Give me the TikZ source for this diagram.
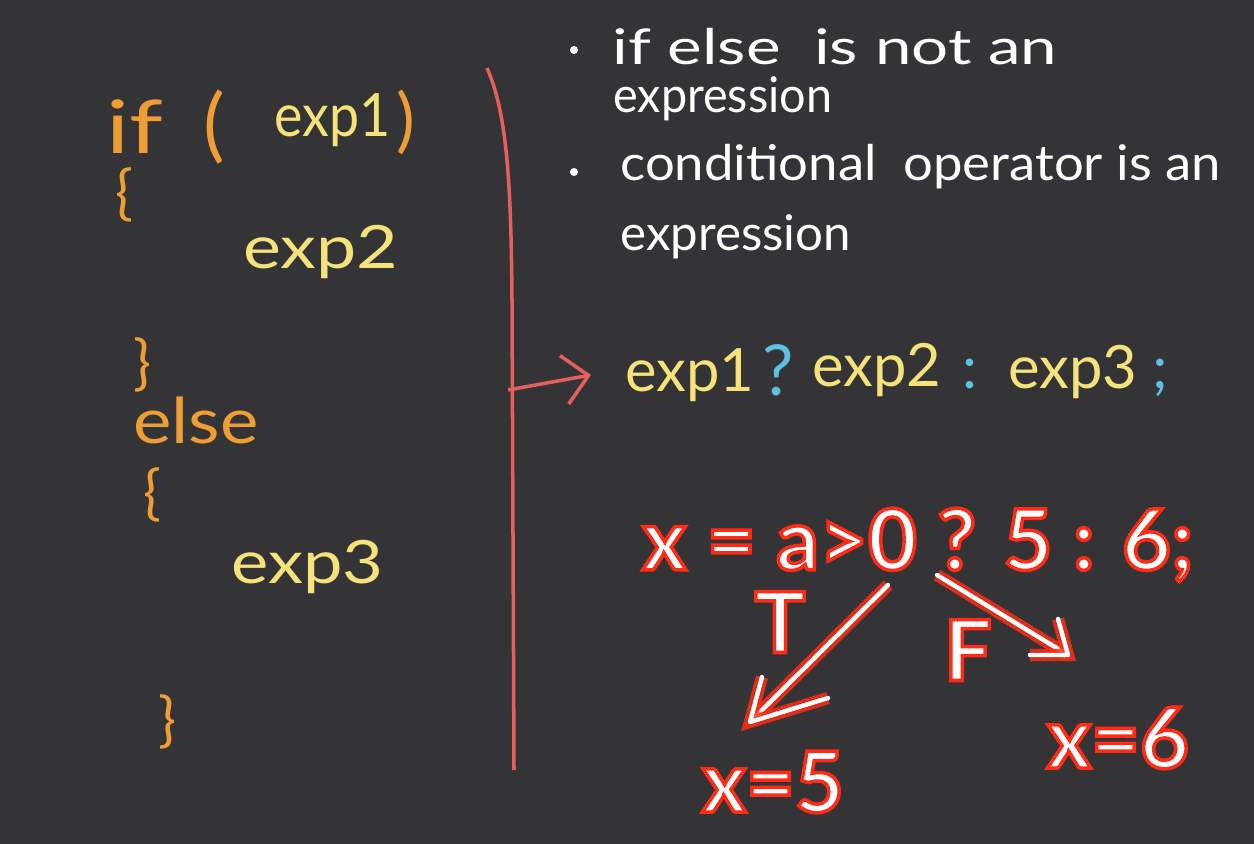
\documentclass[tikz,border=0pt]{standalone}
\usepackage{fontspec}
\setmainfont{Lato}
\usetikzlibrary{arrows.meta}
\definecolor{board}{RGB}{52,51,54}
\definecolor{kwd}{RGB}{238,158,52}
\definecolor{expr}{RGB}{246,226,122}
\definecolor{punct}{RGB}{96,192,226}
\definecolor{pen}{RGB}{228,96,92}
\definecolor{glow}{RGB}{255,44,22}
% white glyphs with a red rim (fill + stroke render mode)
\newcommand{\hotink}[1]{\special{pdf:literal direct 2 Tr 2 w 1 0.17 0.09 RG}#1\special{pdf:literal direct 0 Tr}}
\tikzset{
  code/.style={font=\fontsize{34}{40}\selectfont, anchor=west, inner sep=0pt},
  note/.style={white, font=\fontsize{28}{34}\selectfont, anchor=west, inner sep=0pt},
  hot/.style={white, font=\fontsize{48}{56}\selectfont\bfseries, inner sep=0pt},
  glowline/.style={white, line width=2.5pt, line cap=round, line join=round,
    preaction={draw=glow, line width=7pt, opacity=0.85}},
}

\begin{document}
\begin{tikzpicture}[x=0.02cm,y=-0.02cm]
  \fill[board] (0,0) rectangle (1254,844);
  \useasboundingbox (0,0) rectangle (1254,844);

  % if / else block on the left
  \node[code,kwd,font=\fontsize{42}{50}\selectfont,xscale=1.3,text depth=0pt] (kif) at (106,127) {if};
  \node[code,kwd,font=\fontsize{46}{50}\selectfont] (lpar) at (203,127) {(};
  \node[code,expr,xscale=0.9] (e1) at (274,120) {exp1};
  \node[code,kwd,font=\fontsize{40}{50}\selectfont] (rpar) at (396,122) {)};
  \node[code,kwd] (ob1) at (115,195) {\{};
  \node[code,expr,xscale=1.2] (e2) at (243,252) {exp2};
  \node[code,kwd] (cb1) at (133,365) {\}};
  \node[code,kwd,font=\fontsize{36}{40}\selectfont,xscale=1.15] (kelse) at (133,420) {else};
  \node[code,kwd] (ob2) at (143,495) {\{};
  \node[code,expr,xscale=1.18] (e3) at (231,567) {exp3};
  \node[code,kwd] (cb2) at (158,722) {\}};

  % divider and arrow
  \draw[pen, line width=2pt] (487,68) .. controls (508,115) and (511,190) .. (512,300) -- (514,770);
  \coordinate (tap) at (508,390);

  % notes
  \fill[white] (574,50) circle (4);
  \node[note,xscale=1.33] (n1) at (612,47) {if else \ is not an};
  \node[note,xscale=0.95] (n2) at (613,99) {expression};
  \fill[white] (574,172) circle (4);
  \node[note,xscale=1.07] (n3) at (620,167) {conditional \ operator is an};
  \node[note] (n4) at (620,237) {expression};

  % ternary form
  \node[code,expr] (c1) at (625,375) {exp1};
  \node[code,punct,font=\fontsize{40}{44}\selectfont] (qm) at (762,370) {?};
  \node[code,expr] (c2) at (812,370) {exp2};
  \node[code,punct] (col) at (962,374) {:};
  \node[code,expr] (c3) at (1008,372) {exp3};
  \node[code,punct] (semi) at (1152,378) {;};
  \draw[pen, line width=2pt, -{Straight Barb[length=14pt,width=28pt]}] (tap) -- ([xshift=-0.68cm]c1.west);

  % worked example
  \node[hot] (ex) at (918,545) {\hotink{x = a>0 ? 5 : 6;}};
  \node[hot] (lt) at (780,622) {\hotink{T}};
  \node[hot] (lf) at (968,650) {\hotink{F}};
  \node[hot] (r5) at (773,782) {\hotink{x=5}};
  \node[hot] (r6) at (1118,738) {\hotink{x=6}};
  \coordinate (ts) at (888,585);
  \coordinate (te) at (750,722);
  \coordinate (fs) at (937,575);
  \coordinate (fe) at (1068,655);
  \draw[glowline] (ts) -- (te);
  \draw[glowline] ([shift={(12,-45)}]te) -- (te) -- ([shift={(78,-24)}]te);
  \draw[glowline] (fs) -- (fe);
  \draw[glowline] ([shift={(-10,-36)}]fe) -- (fe) -- ([shift={(-38,0)}]fe);
\end{tikzpicture}
\end{document}
